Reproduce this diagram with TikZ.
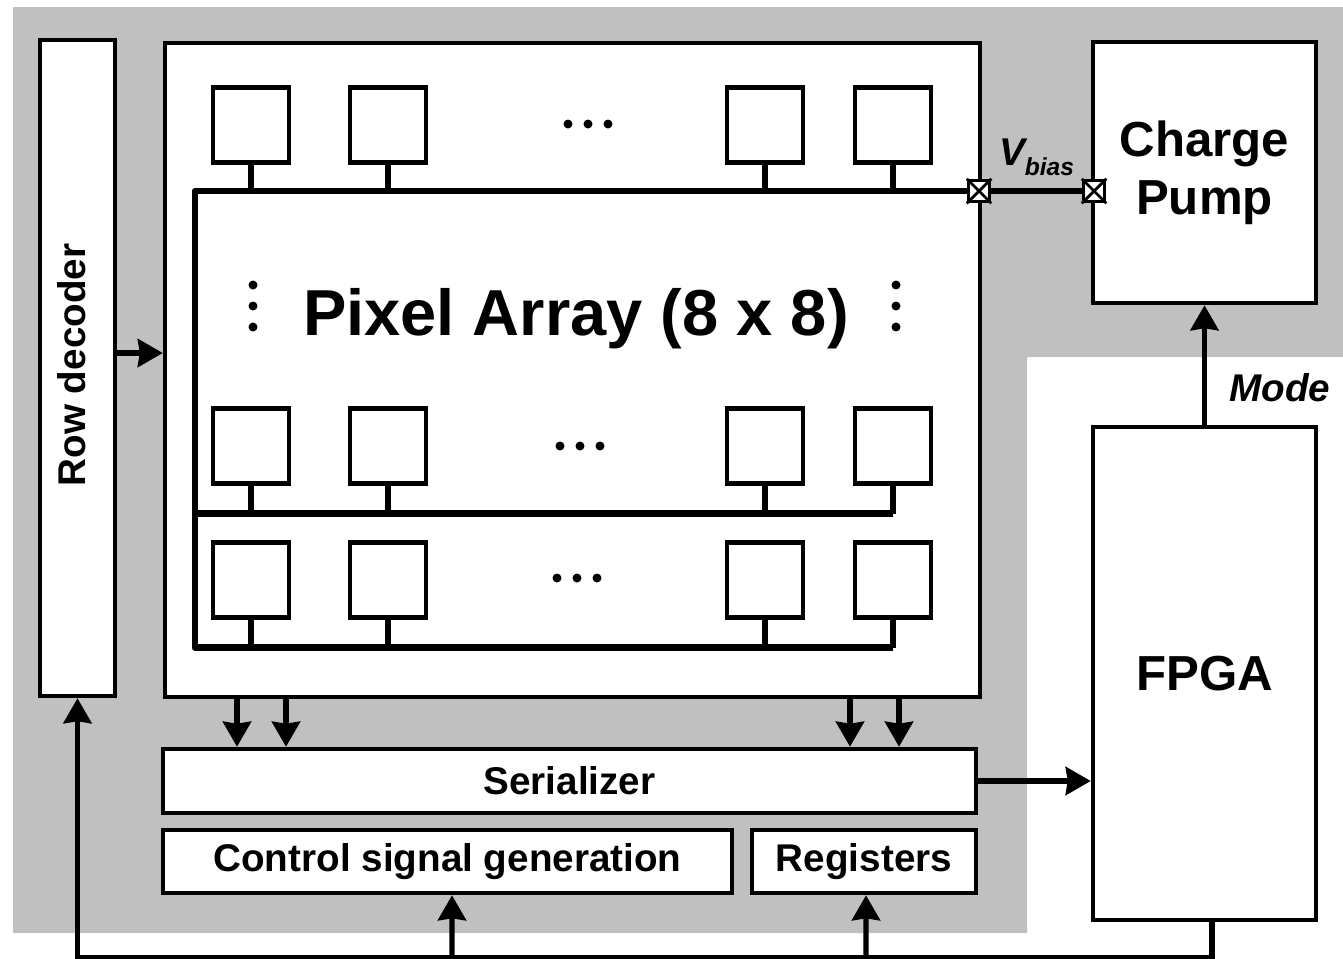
\documentclass[tikz,border=0pt]{standalone}
\usepackage{fontspec}
\setmainfont{Liberation Sans}
\usetikzlibrary{arrows.meta, positioning}
\definecolor{ChipGray}{HTML}{C0C0C0}

\begin{document}
\begin{tikzpicture}[
      x=0.02cm, y=-0.02cm,
      box/.style={draw, line width=2.6pt, fill=white, inner sep=0pt, font=\fontsize{22}{26}\selectfont\bfseries},
      bigbox/.style={box, align=center, font=\fontsize{28}{33}\selectfont\bfseries},
      cell/.style={draw, line width=2.3pt, fill=white, minimum width=1.52cm, minimum height=1.5cm},
      bus/.style={line width=3.8pt, line join=round},
      stub/.style={line width=3.2pt},
      arrow/.style={-{Stealth[length=0.5cm, width=0.56cm, inset=0.04cm]}, line width=3pt},
      pad/.style={draw, fill=white, line width=2pt, minimum size=0.42cm, inner sep=0pt},
      lbl/.style={font=\fontsize{22}{26}\selectfont\bfseries\itshape}
  ]
      \useasboundingbox (0,0) rectangle (1343,958);

      % Chip area
      \fill[ChipGray] (13,7) -- (1343,7) -- (1343,357) -- (1027,357) -- (1027,933) -- (13,933) -- cycle;

      % Blocks
      \node[box, minimum width=1.5cm, minimum height=13.12cm] (rowdec) at (77.5,368) {};
      \node[rotate=90, font=\fontsize{22}{26}\selectfont\bfseries] (rowtxt) at (72,365) {Row decoder};
      \node[box, minimum width=16.3cm, minimum height=13.08cm] (array) at (572.5,370) {};
      \node[bigbox, minimum width=4.46cm, minimum height=5.22cm] (pump) at (1204.5,172.5) {Charge\\Pump};
      \node[bigbox, minimum width=4.46cm, minimum height=9.86cm] (fpga) at (1204.5,673.5) {FPGA};
      \node[box, minimum width=16.26cm, minimum height=1.28cm] (ser) at (569.5,781) {Serializer};
      \node[box, minimum width=11.38cm, minimum height=1.26cm] (ctrl) at (447.5,861.5) {Control signal generation};
      \node[box, minimum width=4.48cm, minimum height=1.26cm] (reg) at (864,861.5) {Registers};

      % Pixels and row lines
      \foreach \r/\yc in {1/125, 2/446, 3/580}
        \foreach \c/\xc in {1/251, 2/388, 3/765, 4/893}
        {
          \node[cell] (px\r\c) at (\xc,\yc) {};
          \draw[stub] (px\r\c.south) -- ++(0,28);
        }
      \node[pad] (padA) at (979,191) {};
      \node[pad] (padB) at (1094,191) {};
      \draw[bus] (px34.south) ++(0,28) -| (195,191) -- (padA);
      \draw[bus] (px24.south) ++(0,28) -- ++(-698,0);
      \draw[bus] (padA) -- node[lbl, above=0.12cm] (vbias) {V\raisebox{-0.25em}{\fontsize{14}{14}\selectfont bias}} (padB);
      \foreach \p in {padA, padB}
        \draw[line width=1.6pt] (\p.north west) -- (\p.south east) (\p.north east) -- (\p.south west);

      \node[font=\fontsize{37}{40}\selectfont\bfseries] (title) at (576,319) {Pixel Array (8 x 8)};

      % Dots
      \foreach \xd/\yd in {588/124, 580/446, 577/578}
        \foreach \k in {-20,0,20}
          \fill (\xd+\k,\yd) circle[radius=0.09cm];
      \foreach \xd in {253, 896}
        \foreach \k in {-21,0,21}
          \fill (\xd,306+\k) circle[radius=0.09cm];

      % Connectors
      \draw[arrow] (rowdec.east |- 0,353) -- (array.west |- 0,353);
      \foreach \xa in {237, 286, 850, 899}
        \draw[arrow] (array.south -| \xa,0) -- (ser.north -| \xa,0);
      \draw[arrow] (ser.east) -- (fpga.west |- ser.east);
      \draw[arrow] (fpga.north) -- (pump.south);
      \node[lbl] (mode) at (1280,388) {Mode};

      % Feedback from FPGA
      \coordinate (loopR) at ([xshift=0.15cm]fpga.south);
      \draw[arrow] (loopR) -- ++(0,35) -| (rowdec.south);
      \draw[arrow] (loopR |- 0,955) ++(-760,0) -- (ctrl.south -| 452,0);
      \draw[arrow] (loopR |- 0,955) ++(-346,0) -- (reg.south -| 866,0);
  \end{tikzpicture}
\end{document}
